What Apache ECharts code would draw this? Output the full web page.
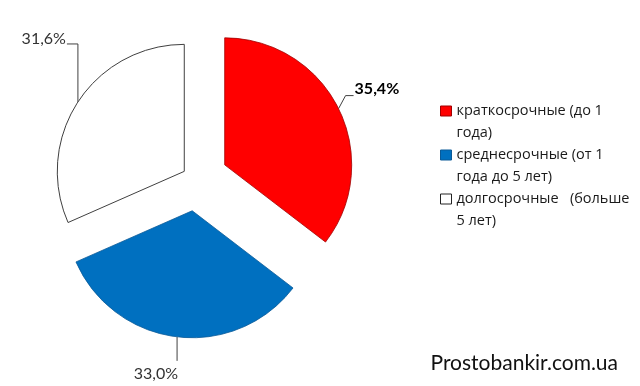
<!DOCTYPE html>
<html>
<head>
<meta charset="utf-8">
<script src="https://cdn.jsdelivr.net/npm/echarts@6/dist/echarts.min.js"></script>
<style>html,body{margin:0;padding:0;background:#fff}#chart{width:640px;height:386px}</style>
</head>
<body>
<div id="chart"></div>
<script>
// ---- data ----
const categories = [
  'краткосрочные (до 1\nгода)',
  'среднесрочные (от 1\nгода до 5 лет)',
  'долгосрочные   (больше\n5 лет)'
];
const values = [35.4, 33.0, 31.6];
const valueLabels = ['35,4%', '33,0%', '31,6%'];
const watermark = 'Prostobankir.com.ua';

// ---- styles / layout ----
const colors = ['#FF0000', '#0070C0', '#FFFFFF'];
const borders = ['#A00000', '#0A5A98', '#404040'];
const explode = [32, 32, 14];
const baseCenter = [196, 179];
const radius = 127;
const FONT = 'Lato, "Open Sans", sans-serif';
const LFONT = '"Open Sans", "Noto Sans", sans-serif';

// label placement relative to the slice-edge anchor point given by the library
const labelPlacers = [
  p => ({ x: p[0] + 16, y: p[1] - 20, align: 'left', verticalAlign: 'middle',
          labelLinePoints: [p, [p[0] + 7, p[1] - 13], [p[0] + 15, p[1] - 13]] }),
  p => ({ x: p[0] + 1, y: p[1] + 37, align: 'right', verticalAlign: 'middle',
          labelLinePoints: [p, [p[0], p[1] + 24]] }),
  p => ({ x: p[0] - 12, y: p[1] - 63, align: 'right', verticalAlign: 'middle',
          labelLinePoints: [p, [p[0], p[1] - 58], [p[0] - 11, p[1] - 58]] })
];

const total = values.reduce((a, b) => a + b, 0);
let cum = 0;
const series = values.map((v, i) => {
  const mid = (cum + v / 2) / total * 2 * Math.PI;
  cum += v;
  const center = [baseCenter[0] + explode[i] * Math.sin(mid),
                  baseCenter[1] - explode[i] * Math.cos(mid)];
  return {
    type: 'pie',
    center: center,
    radius: radius,
    startAngle: 90,
    clockwise: true,
    avoidLabelOverlap: false,
    silent: true,
    emphasis: { disabled: true },
    labelLayout: params => {
      const pts = params.labelLinePoints;
      if (!pts) return {};
      return labelPlacers[i](pts[0]);
    },
    data: values.map((val, j) => (j === i ? {
      name: categories[j], value: val,
      itemStyle: { color: colors[j], borderColor: borders[j], borderWidth: j === 2 ? 1 : 0.8 },
      label: {
        show: true, formatter: valueLabels[j], color: j === 0 ? '#000' : '#333',
        fontFamily: FONT, fontSize: 16, fontWeight: j === 0 ? 'bold' : 'normal'
      },
      labelLine: { show: true, lineStyle: { color: '#404040', width: 1 } }
    } : {
      name: categories[j], value: val,
      itemStyle: { color: 'rgba(0,0,0,0)', borderWidth: 0 },
      label: { show: false }, labelLine: { show: false }
    }))
  };
});

const chart = echarts.init(document.getElementById('chart'), null, { renderer: 'canvas' });
chart.setOption({
  backgroundColor: '#fff',
  animation: false,
  legend: {
    orient: 'vertical',
    left: 440,
    top: 78,
    padding: 0,
    itemGap: -22,
    itemWidth: 11,
    itemHeight: 10,
    icon: 'rect',
    selectedMode: false,
    // leading empty line keeps the first text line level with the marker
    formatter: name => '\n' + name,
    textStyle: {
      fontFamily: LFONT, fontSize: 14.5, color: '#1a1a1a', lineHeight: 22
    },
    data: categories.map((c, j) => ({
      name: c,
      itemStyle: { color: colors[j], borderColor: j === 2 ? '#222' : borders[j], borderWidth: 1 }
    }))
  },
  graphic: [{
    type: 'text', right: 22, top: 353,
    style: { text: watermark, font: '21px ' + FONT, fill: '#111' }
  }],
  series: series
});
</script>
</body>
</html>
